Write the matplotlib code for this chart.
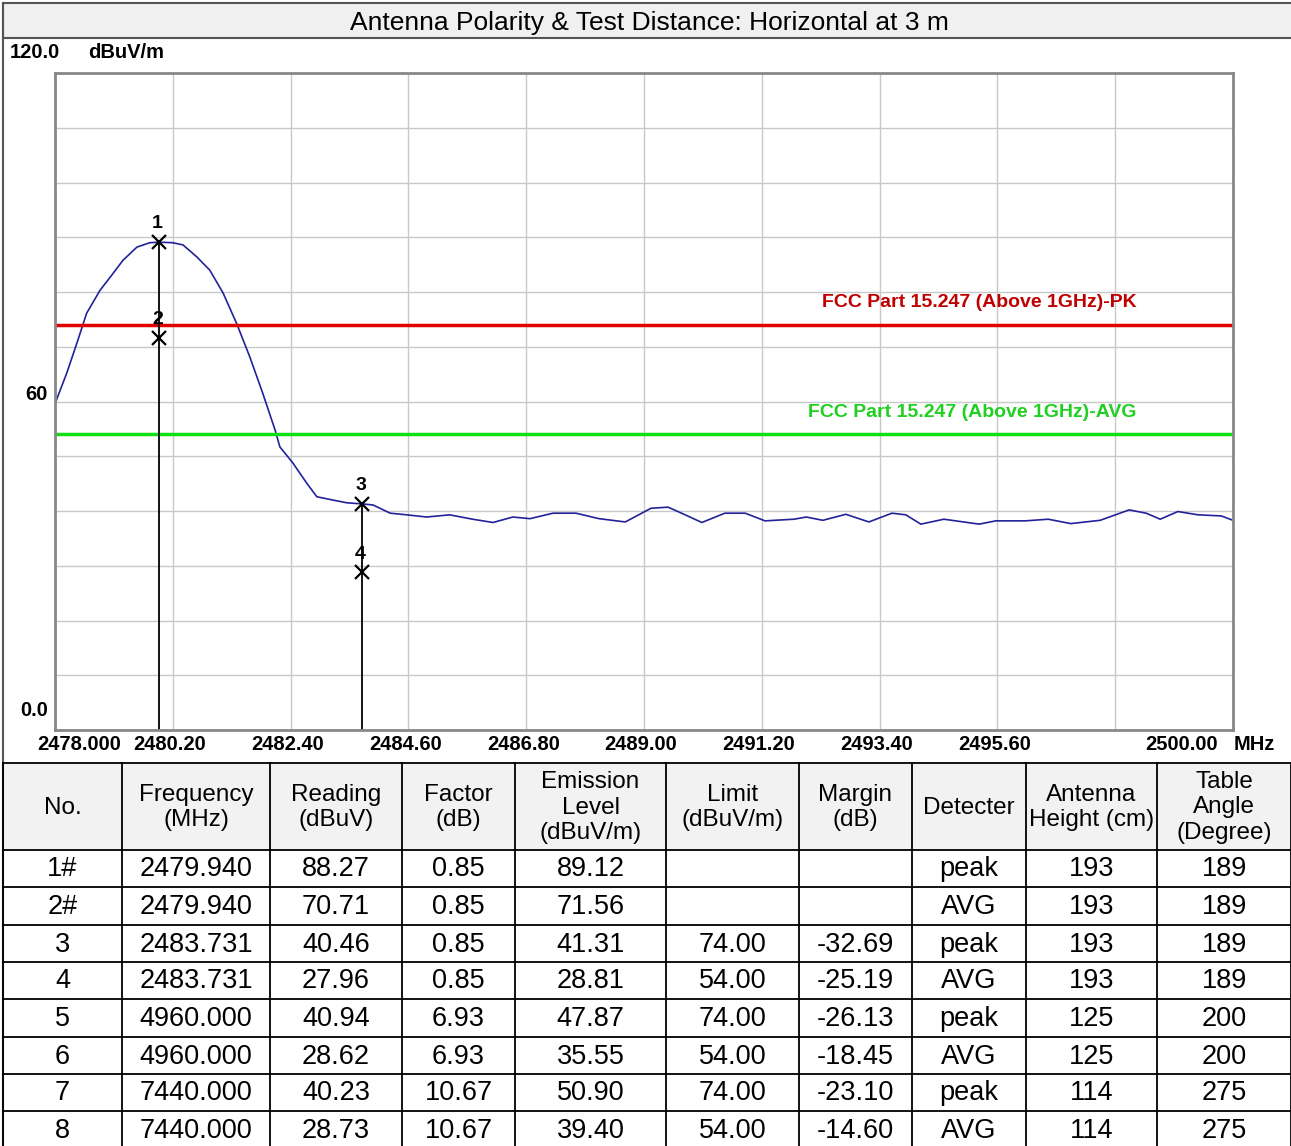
import matplotlib
matplotlib.use("Agg")
import matplotlib.pyplot as plt

# trace (MHz, dBuV/m)
freq = [2478.00, 2478.22, 2478.41, 2478.59, 2478.84, 2479.03, 2479.27, 2479.53, 2479.77,
        2479.94, 2480.20, 2480.39, 2480.65, 2480.89, 2481.14, 2481.39, 2481.64, 2481.88,
        2482.11, 2482.20, 2482.44, 2482.70, 2482.89, 2483.19, 2483.45, 2483.73, 2483.94,
        2484.26, 2484.57, 2484.94, 2485.37, 2485.80, 2486.18, 2486.55, 2486.87, 2487.30,
        2487.73, 2488.16, 2488.65, 2489.13, 2489.45, 2489.77, 2490.08, 2490.51, 2490.89,
        2491.26, 2491.80, 2492.03, 2492.34, 2492.77, 2493.20, 2493.63, 2493.89, 2494.17,
        2494.60, 2495.26, 2495.57, 2496.12, 2496.55, 2496.97, 2497.52, 2498.06, 2498.38,
        2498.64, 2498.97, 2499.35, 2499.78, 2500.00]
level = [59.6, 65.2, 70.7, 76.1, 80.3, 82.7, 85.8, 88.2, 89.0,
         89.1, 89.0, 88.6, 86.4, 84.0, 79.8, 74.3, 68.1, 61.5,
         54.8, 51.7, 48.8, 45.1, 42.6, 42.0, 41.5, 41.3, 41.1,
         39.6, 39.3, 38.9, 39.3, 38.5, 37.9, 38.9, 38.6, 39.6,
         39.6, 38.6, 38.0, 40.5, 40.7, 39.3, 37.9, 39.6, 39.6,
         38.2, 38.5, 38.9, 38.3, 39.4, 38.0, 39.6, 39.3, 37.6,
         38.5, 37.6, 38.2, 38.2, 38.5, 37.7, 38.3, 40.2, 39.6,
         38.5, 39.9, 39.3, 39.1, 38.3]

limit_pk = 74.0
limit_avg = 54.0

mk_no = ["1", "2", "3", "4"]
mk_freq = [2479.940, 2479.940, 2483.731, 2483.731]
mk_level = [89.12, 71.56, 41.31, 28.81]

xticks = [2478.0, 2480.2, 2482.4, 2484.6, 2486.8, 2489.0, 2491.2, 2493.4, 2495.6, 2497.8, 2500.0]
xlabels = ["2478.000", "2480.20", "2482.40", "2484.60", "2486.80", "2489.00",
           "2491.20", "2493.40", "2495.60", "", "2500.00"]

# result table
headers = ["No.", "Frequency\n(MHz)", "Reading\n(dBuV)", "Factor\n(dB)", "Emission\nLevel\n(dBuV/m)",
           "Limit\n(dBuV/m)", "Margin\n(dB)", "Detecter", "Antenna\nHeight (cm)", "Table\nAngle\n(Degree)"]
col_no = ["1#", "2#", "3", "4", "5", "6", "7", "8"]
col_freq = ["2479.940", "2479.940", "2483.731", "2483.731", "4960.000", "4960.000", "7440.000", "7440.000"]
col_read = ["88.27", "70.71", "40.46", "27.96", "40.94", "28.62", "40.23", "28.73"]
col_fact = ["0.85", "0.85", "0.85", "0.85", "6.93", "6.93", "10.67", "10.67"]
col_emis = ["89.12", "71.56", "41.31", "28.81", "47.87", "35.55", "50.90", "39.40"]
col_lim = ["", "", "74.00", "54.00", "74.00", "54.00", "74.00", "54.00"]
col_marg = ["", "", "-32.69", "-25.19", "-26.13", "-18.45", "-23.10", "-14.60"]
col_det = ["peak", "AVG", "peak", "AVG", "peak", "AVG", "peak", "AVG"]
col_ant = ["193", "193", "193", "193", "125", "125", "114", "114"]
col_ang = ["189", "189", "189", "189", "200", "200", "275", "275"]

W, H = 1291, 1146
fig = plt.figure(figsize=(W / 100, H / 100), dpi=100)

# background layer in pixel coords
bg = fig.add_axes([0, 0, 1, 1])
bg.set_xlim(0, W)
bg.set_ylim(H, 0)
bg.axis("off")

sans = "Liberation Sans"
tick_font = dict(family=sans, weight="bold", size=14.5)

# title bar
bg.add_patch(plt.Rectangle((3, 3), W, 35, facecolor="#f0f0f0", edgecolor="#555555", lw=1.5))
bg.text(649, 23, "Antenna Polarity & Test Distance: Horizontal at 3 m", ha="center", va="center",
        family=sans, size=19)
bg.plot([3, 3], [3, H], color="#555555", lw=1.5)

# plot area
ax = fig.add_axes([55 / W, 1 - 730 / H, 1178 / W, 657 / H])
ax.set_xlim(2478, 2500)
ax.set_ylim(0, 120)
ax.set_xticks(xticks)
ax.set_yticks(range(0, 121, 10))
ax.grid(True, color="#c8c8c8", lw=1)
ax.tick_params(length=0, labelbottom=False, labelleft=False)
for s in ax.spines.values():
    s.set_color("#888888")
    s.set_linewidth(2)

ax.plot(freq, level, color="#22229a", lw=1.2)
ax.axhline(limit_pk, color="#e00000", lw=2.5)
ax.axhline(limit_avg, color="#10e010", lw=2.5)
ax.text(2498.2, limit_pk + 2.5, "FCC Part 15.247 (Above 1GHz)-PK", ha="right", va="bottom",
        color="#c00000", family=sans, weight="bold", size=14)
ax.text(2498.2, limit_avg + 2.5, "FCC Part 15.247 (Above 1GHz)-AVG", ha="right", va="bottom",
        color="#20d020", family=sans, weight="bold", size=14)

for f in sorted(set(mk_freq)):
    top = max(l for ff, l in zip(mk_freq, mk_level) if ff == f)
    ax.plot([f, f], [0, top], color="black", lw=1.3)
ax.plot(mk_freq, mk_level, "x", color="black", ms=10, mew=1.6)
for n, f, l in zip(mk_no, mk_freq, mk_level):
    ax.annotate(n, (f, l), xytext=(-1, 7), textcoords="offset points", ha="center", va="bottom",
                family=sans, weight="bold", size=14)

# axis labels drawn in pixel coords
for i, (t, lab) in enumerate(zip(xticks, xlabels)):
    if not lab:
        continue
    px = 55 + (t - 2478) / 22 * 1178
    if i == 0:
        bg.text(37, 745, lab, ha="left", va="center", **tick_font)
    elif i == len(xticks) - 1:
        bg.text(1218, 745, lab, ha="right", va="center", **tick_font)
    else:
        bg.text(px - 3, 745, lab, ha="center", va="center", **tick_font)
bg.text(1234, 745, "MHz", ha="left", va="center", **tick_font)
bg.text(10, 53, "120.0", ha="left", va="center", **tick_font)
bg.text(88, 53, "dBuV/m", ha="left", va="center", **tick_font)
bg.text(48, 395, "60", ha="right", va="center", **tick_font)
bg.text(48, 710, "0.0", ha="right", va="center", **tick_font)

# table
col_x = [3, 122, 270, 402, 515, 666, 799, 912, 1026, 1157, 1291]
row_y = [763, 850, 887, 925, 962, 999, 1037, 1074, 1111, 1149]
bg.add_patch(plt.Rectangle((3, row_y[0]), W - 3, row_y[1] - row_y[0], facecolor="#f2f2f2", edgecolor="none"))
for y in row_y:
    bg.plot([3, W], [y, y], color="black", lw=1.3)
for x in col_x:
    bg.plot([x, x], [row_y[0], H], color="black", lw=1.3)

columns = [col_no, col_freq, col_read, col_fact, col_emis, col_lim, col_marg, col_det, col_ant, col_ang]
for i, (head, col) in enumerate(zip(headers, columns)):
    cx = (col_x[i] + col_x[i + 1]) / 2
    bg.text(cx, (row_y[0] + row_y[1]) / 2 + 1, head, ha="center", va="center", family=sans,
            size=17.5, linespacing=1.2)
    for j, val in enumerate(col):
        bg.text(cx, (row_y[j + 1] + row_y[j + 2]) / 2 + 1, val, ha="center", va="center",
                family=sans, size=19.5)

fig.savefig("out.png", dpi=100)
